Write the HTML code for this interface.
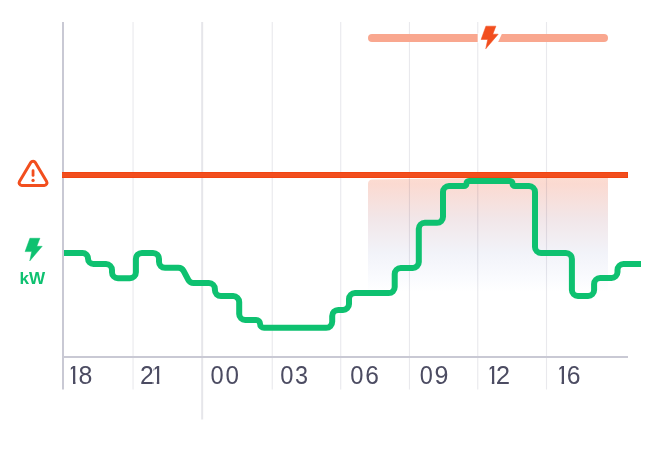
<!DOCTYPE html>
<html><head><meta charset="utf-8"><title>kW chart</title>
<style>
html,body{margin:0;padding:0;background:#fff;}
body{width:660px;height:456px;overflow:hidden;font-family:"Liberation Sans",sans-serif;}
svg{display:block}
text{font-family:"Liberation Sans",sans-serif;}
</style></head><body>
<svg width="660" height="456" viewBox="0 0 660 456">
<defs>
<linearGradient id="zone" gradientUnits="userSpaceOnUse" x1="0" y1="178.5" x2="0" y2="292">
<stop offset="0" stop-color="#fcdcd2"/>
<stop offset="0.048" stop-color="#fbdad1"/>
<stop offset="0.348" stop-color="#f2e6e8"/>
<stop offset="0.656" stop-color="#f2f3f9"/>
<stop offset="0.885" stop-color="#fafbfe"/>
<stop offset="1" stop-color="#ffffff"/>
</linearGradient>
</defs>
<rect width="660" height="456" fill="#fff"/>
<path d="M368 184 Q368 179.4 372.6 179.4 L480 178 L608 177.5 L608 292 L368 292 Z" fill="url(#zone)"/>

<line x1="133.07" y1="22" x2="133.07" y2="389.5" stroke="#14143c" stroke-opacity="0.095" stroke-width="1.1"/>
<line x1="202.15" y1="22" x2="202.15" y2="419.5" stroke="#14143c" stroke-opacity="0.105" stroke-width="2"/>
<line x1="272.25" y1="22" x2="272.25" y2="389.5" stroke="#14143c" stroke-opacity="0.095" stroke-width="1.1"/>
<line x1="340.7" y1="22" x2="340.7" y2="389.5" stroke="#14143c" stroke-opacity="0.095" stroke-width="1.1"/>
<line x1="409.45" y1="22" x2="409.45" y2="389.5" stroke="#14143c" stroke-opacity="0.095" stroke-width="1.1"/>
<line x1="477.75" y1="22" x2="477.75" y2="389.5" stroke="#14143c" stroke-opacity="0.095" stroke-width="1.1"/>
<line x1="546.5" y1="22" x2="546.5" y2="389.5" stroke="#14143c" stroke-opacity="0.095" stroke-width="1.1"/>
<line x1="63" y1="22" x2="63" y2="389.5" stroke="#c9c9d4" stroke-width="2"/>
<line x1="62" y1="357" x2="628" y2="357" stroke="#c9c9d4" stroke-width="2"/>
<line x1="372" y1="38" x2="604" y2="38" stroke="#f9a78f" stroke-width="8" stroke-linecap="round"/>
<path d="M477.7 33 L502.3 33 L497.7 43 L477.7 43 Z" fill="#fff"/>
<path d="M485.90 26.15 L495.90 26.15 L492.80 34.20 L498.20 34.20 L485.75 48.80 L487.70 39.50 L481.10 39.50Z" fill="#fff" stroke="#fff" stroke-width="5.6" stroke-linejoin="round"/>
<path d="M485.90 26.15 L495.90 26.15 L492.80 34.20 L498.20 34.20 L485.75 48.80 L487.70 39.50 L481.10 39.50Z" fill="#f24e1e" stroke="#f24e1e" stroke-width="0.5" stroke-linejoin="round"/>
<rect x="62" y="172" width="566" height="6" fill="#f04411"/>
<rect x="62" y="173" width="565" height="4" fill="#f24e1e"/>
<path d="M64.00 253.00 L82.50 253.00 A5.50 5.50 0 0 1 88.00 258.50 L88.00 258.50 A5.50 5.50 0 0 0 93.50 264.00 L106.00 264.00 A6.00 6.00 0 0 1 112.00 270.00 L112.00 272.20 A6.00 6.00 0 0 0 118.00 278.20 L129.90 278.20 A6.00 6.00 0 0 0 135.90 272.20 L135.90 258.90 A6.00 6.00 0 0 1 141.90 252.90 L153.00 252.90 A6.00 6.00 0 0 1 159.00 258.90 L159.00 261.80 A6.00 6.00 0 0 0 165.00 267.80 L178.37 267.80 A6.00 6.00 0 0 1 183.68 271.02 L188.32 279.88 A6.00 6.00 0 0 0 193.63 283.10 L208.90 283.10 A6.00 6.00 0 0 1 214.90 289.10 L214.90 290.10 A6.00 6.00 0 0 0 220.90 296.10 L233.20 296.10 A6.00 6.00 0 0 1 239.20 302.10 L239.20 313.90 A6.00 6.00 0 0 0 245.20 319.90 L256.12 319.90 A3.98 3.98 0 0 1 260.10 323.88 L260.10 323.88 A3.98 3.98 0 0 0 264.08 327.85 L326.20 327.85 A6.00 6.00 0 0 0 332.20 321.85 L332.20 315.90 A6.00 6.00 0 0 1 338.20 309.90 L343.00 309.90 A6.00 6.00 0 0 0 349.00 303.90 L349.00 299.05 A6.00 6.00 0 0 1 355.00 293.05 L388.70 293.05 A6.00 6.00 0 0 0 394.70 287.05 L394.70 274.00 A6.00 6.00 0 0 1 400.70 268.00 L412.80 268.00 A6.00 6.00 0 0 0 418.80 262.00 L418.80 228.80 A6.00 6.00 0 0 1 424.80 222.80 L437.00 222.80 A6.00 6.00 0 0 0 443.00 216.80 L443.00 192.00 A6.00 6.00 0 0 1 449.00 186.00 L464.00 186.00 A2.50 2.50 0 0 0 466.50 183.50 L466.50 183.50 A2.50 2.50 0 0 1 469.00 181.00 L510.00 181.00 A2.50 2.50 0 0 1 512.50 183.50 L512.50 183.50 A2.50 2.50 0 0 0 515.00 186.00 L529.00 186.00 A6.00 6.00 0 0 1 535.00 192.00 L535.00 247.00 A6.00 6.00 0 0 0 541.00 253.00 L565.90 253.00 A6.00 6.00 0 0 1 571.90 259.00 L571.90 290.00 A6.00 6.00 0 0 0 577.90 296.00 L588.10 296.00 A6.00 6.00 0 0 0 594.10 290.00 L594.10 284.00 A6.00 6.00 0 0 1 600.10 278.00 L611.50 278.00 A6.00 6.00 0 0 0 617.50 272.00 L617.50 270.00 A6.00 6.00 0 0 1 623.50 264.00 L641.00 264.00" fill="none" stroke="#0ec170" stroke-width="6" stroke-linejoin="round"/>
<g transform="translate(17.05,157.4) scale(1.3333)" fill="none" stroke="#f24e1e" stroke-width="2.25" stroke-linecap="round" stroke-linejoin="round">
<path d="M10.29 3.86L1.82 18a2 2 0 0 0 1.71 3h16.94a2 2 0 0 0 1.71-3L13.71 3.86a2 2 0 0 0-3.42 0z"/>
</g>
<line x1="33.05" y1="170.7" x2="33.05" y2="175.4" stroke="#f24e1e" stroke-width="2.8" stroke-linecap="round"/>
<circle cx="33.05" cy="180.4" r="1.65" fill="#f24e1e"/>
<path d="M29.90 238.25 L39.90 238.25 L36.80 246.30 L42.20 246.30 L29.75 260.90 L31.70 251.60 L25.10 251.60Z" fill="#0ec170" stroke="#0ec170" stroke-width="0.5" stroke-linejoin="round"/>
<text x="19.6" y="283.8" font-size="16" font-weight="700" fill="#0ec170" textLength="25.6" lengthAdjust="spacingAndGlyphs">kW</text>
<clipPath id="c0"><rect x="70.79" y="360.00" width="5.16" height="21.88"/><rect x="72.99" y="381.68" width="2.51" height="5"/><rect x="78.50" y="360.00" width="13.70" height="21.88"/><rect x="81.30" y="381.68" width="10.90" height="5"/></clipPath>
<text y="384.0" font-size="25.0" fill="#4c4c62" clip-path="url(#c0)"><tspan x="66.85">1</tspan><tspan x="78.42" textLength="13.87" lengthAdjust="spacingAndGlyphs">8</tspan></text>
<clipPath id="c1"><rect x="140.25" y="360.00" width="13.25" height="21.88"/><rect x="141.05" y="381.68" width="12.45" height="5"/><rect x="154.59" y="360.00" width="5.16" height="21.88"/><rect x="156.79" y="381.68" width="2.51" height="5"/></clipPath>
<text y="384.0" font-size="25.0" fill="#4c4c62" clip-path="url(#c1)"><tspan x="140.01" textLength="13.73" lengthAdjust="spacingAndGlyphs">2</tspan><tspan x="150.65">1</tspan></text>
<text y="384.0" font-size="25.0" fill="#4c4c62"><tspan x="210.58" textLength="13.15" lengthAdjust="spacingAndGlyphs">0</tspan><tspan x="225.56" textLength="13.44" lengthAdjust="spacingAndGlyphs">0</tspan></text>
<text y="384.0" font-size="25.0" fill="#4c4c62"><tspan x="280.32" textLength="13.20" lengthAdjust="spacingAndGlyphs">0</tspan><tspan x="294.91" textLength="13.02" lengthAdjust="spacingAndGlyphs">3</tspan></text>
<text y="384.0" font-size="25.0" fill="#4c4c62"><tspan x="350.17" textLength="13.20" lengthAdjust="spacingAndGlyphs">0</tspan><tspan x="365.16" textLength="13.62" lengthAdjust="spacingAndGlyphs">6</tspan></text>
<text y="384.0" font-size="25.0" fill="#4c4c62"><tspan x="419.73" textLength="13.09" lengthAdjust="spacingAndGlyphs">0</tspan><tspan x="434.48" textLength="13.91" lengthAdjust="spacingAndGlyphs">9</tspan></text>
<clipPath id="c6"><rect x="489.64" y="360.00" width="5.16" height="21.88"/><rect x="491.84" y="381.68" width="2.51" height="5"/><rect x="496.40" y="360.00" width="13.50" height="21.88"/><rect x="497.20" y="381.68" width="12.70" height="5"/></clipPath>
<text y="384.0" font-size="25.0" fill="#4c4c62" clip-path="url(#c6)"><tspan x="485.70">1</tspan><tspan x="496.13" textLength="14.04" lengthAdjust="spacingAndGlyphs">2</tspan></text>
<clipPath id="c7"><rect x="559.34" y="360.00" width="5.16" height="21.88"/><rect x="561.54" y="381.68" width="2.51" height="5"/><rect x="567.10" y="360.00" width="13.40" height="21.88"/><rect x="569.90" y="381.68" width="10.60" height="5"/></clipPath>
<text y="384.0" font-size="25.0" fill="#4c4c62" clip-path="url(#c7)"><tspan x="555.40">1</tspan><tspan x="566.85" textLength="13.74" lengthAdjust="spacingAndGlyphs">6</tspan></text>
</svg>
</body></html>
